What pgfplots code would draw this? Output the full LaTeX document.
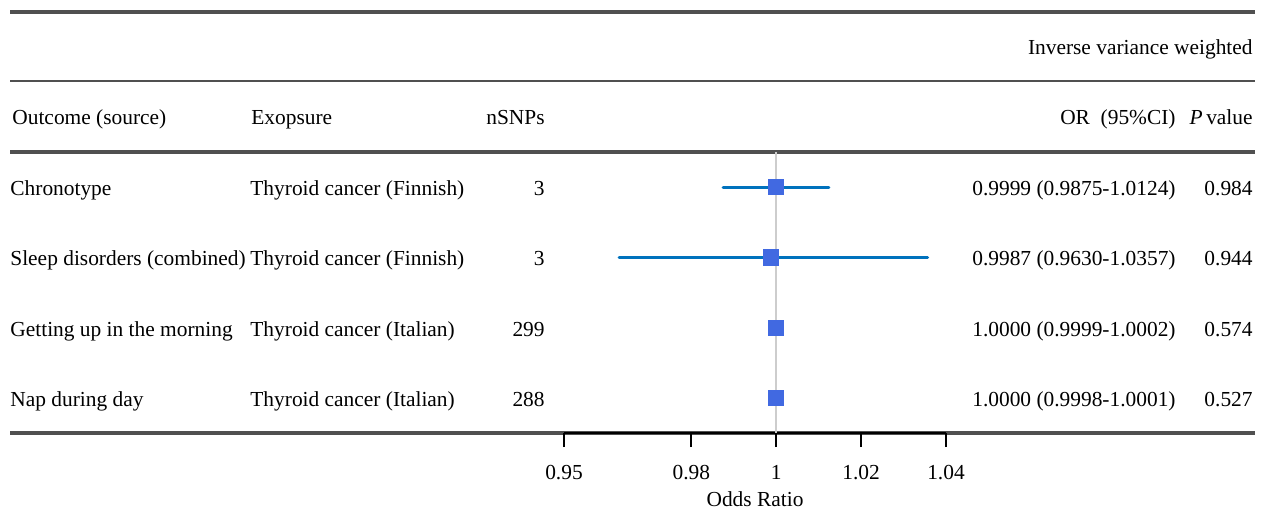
\documentclass[border=0pt]{standalone}
\usepackage{pgfplots}
\pgfplotsset{compat=1.18}
\usepackage{fontspec}
\setmainfont{Liberation Serif}
\definecolor{rowline}{RGB}{80,80,80}
\definecolor{cibar}{RGB}{0,114,189}
\definecolor{sq}{RGB}{65,105,225}
\definecolor{refline}{RGB}{205,205,205}
\begin{document}
\begin{tikzpicture}
\fontsize{10.7}{12.8}\selectfont
\path[use as bounding box] (0,0) rectangle (633pt,-254.5pt);
\begin{scope}[x=0.5pt,y=-0.5pt]
\draw[rowline, line width=1.6pt] (10,12) -- (1255,12);
\draw[rowline, line width=0.9pt] (10,81) -- (1255,81);
\draw[rowline, line width=1.8pt] (10,152) -- (1255,152);
\draw[rowline, line width=1.8pt] (10,433) -- (1255,433);
% header
\node[anchor=base east, inner sep=0] at (1253,54) {Inverse variance weighted};
\node[anchor=base west, inner sep=0] at (12,124) {Outcome (source)};
\node[anchor=base west, inner sep=0] at (251,124) {Exopsure};
\node[anchor=base east, inner sep=0] at (545,124) {nSNPs};
\node[anchor=base east, inner sep=0] at (1176,124) {OR\ \ (95\%CI)};
\node[anchor=base east, inner sep=0] at (1253,124) {\textit{P}\,value};
% rows
\node[anchor=base west, inner sep=0] at (10,195) {Chronotype};
\node[anchor=base west, inner sep=0] at (10,265) {Sleep disorders (combined)};
\node[anchor=base west, inner sep=0] at (10,336) {Getting up in the morning};
\node[anchor=base west, inner sep=0] at (10,406) {Nap during day};
\node[anchor=base west, inner sep=0] at (250,195) {Thyroid cancer (Finnish)};
\node[anchor=base west, inner sep=0] at (250,265) {Thyroid cancer (Finnish)};
\node[anchor=base west, inner sep=0] at (250,336) {Thyroid cancer (Italian)};
\node[anchor=base west, inner sep=0] at (250,406) {Thyroid cancer (Italian)};
\node[anchor=base east, inner sep=0] at (545,195) {3};
\node[anchor=base east, inner sep=0] at (545,265) {3};
\node[anchor=base east, inner sep=0] at (545,336) {299};
\node[anchor=base east, inner sep=0] at (545,406) {288};
\node[anchor=base east, inner sep=0] at (1176,195) {0.9999 (0.9875-1.0124)};
\node[anchor=base east, inner sep=0] at (1176,265) {0.9987 (0.9630-1.0357)};
\node[anchor=base east, inner sep=0] at (1176,336) {1.0000 (0.9999-1.0002)};
\node[anchor=base east, inner sep=0] at (1176,406) {1.0000 (0.9998-1.0001)};
\node[anchor=base east, inner sep=0] at (1253,195) {0.984};
\node[anchor=base east, inner sep=0] at (1253,265) {0.944};
\node[anchor=base east, inner sep=0] at (1253,336) {0.574};
\node[anchor=base east, inner sep=0] at (1253,406) {0.527};
\node[anchor=center, inner sep=0] at (755,499) {Odds Ratio};
\end{scope}
\begin{axis}[
  at={(282pt,-216.5pt)}, anchor=south west,
  scale only axis, width=191pt, height=140.5pt,
  xmin=0.95, xmax=1.04, ymin=0.5, ymax=4.5,
  axis x line*=bottom, axis y line=none, clip=false,
  xtick={0.95,0.98,1,1.02,1.04},
  xticklabels={0.95,0.98,1,1.02,1.04},
  tick align=outside, major tick length=7pt,
  x axis line style={black, line width=1.3pt, -},
  xtick style={black, line width=1pt},
  every tick label/.append style={font=\fontsize{10.7}{12.8}\selectfont},
  xticklabel style={yshift=-5.5pt},
  /pgf/number format/assume math mode=true,
]
\addplot[refline, line width=0.8pt] coordinates {(1,0.5) (1,4.5)};
\addplot[cibar, line width=1.5pt, line cap=round] coordinates {(0.9875,4) (1.0124,4)};
\addplot[cibar, line width=1.5pt, line cap=round] coordinates {(0.9630,3) (1.0357,3)};
\addplot[cibar, line width=1.5pt, line cap=round] coordinates {(0.9999,2) (1.0002,2)};
\addplot[cibar, line width=1.5pt, line cap=round] coordinates {(0.9998,1) (1.0001,1)};
\addplot[only marks, mark=square*, mark size=3.8pt, mark options={fill=sq, draw=sq}]
  coordinates {(0.9999,4) (0.9987,3) (1.0000,2) (1.0000,1)};
\end{axis}
\end{tikzpicture}
\end{document}
